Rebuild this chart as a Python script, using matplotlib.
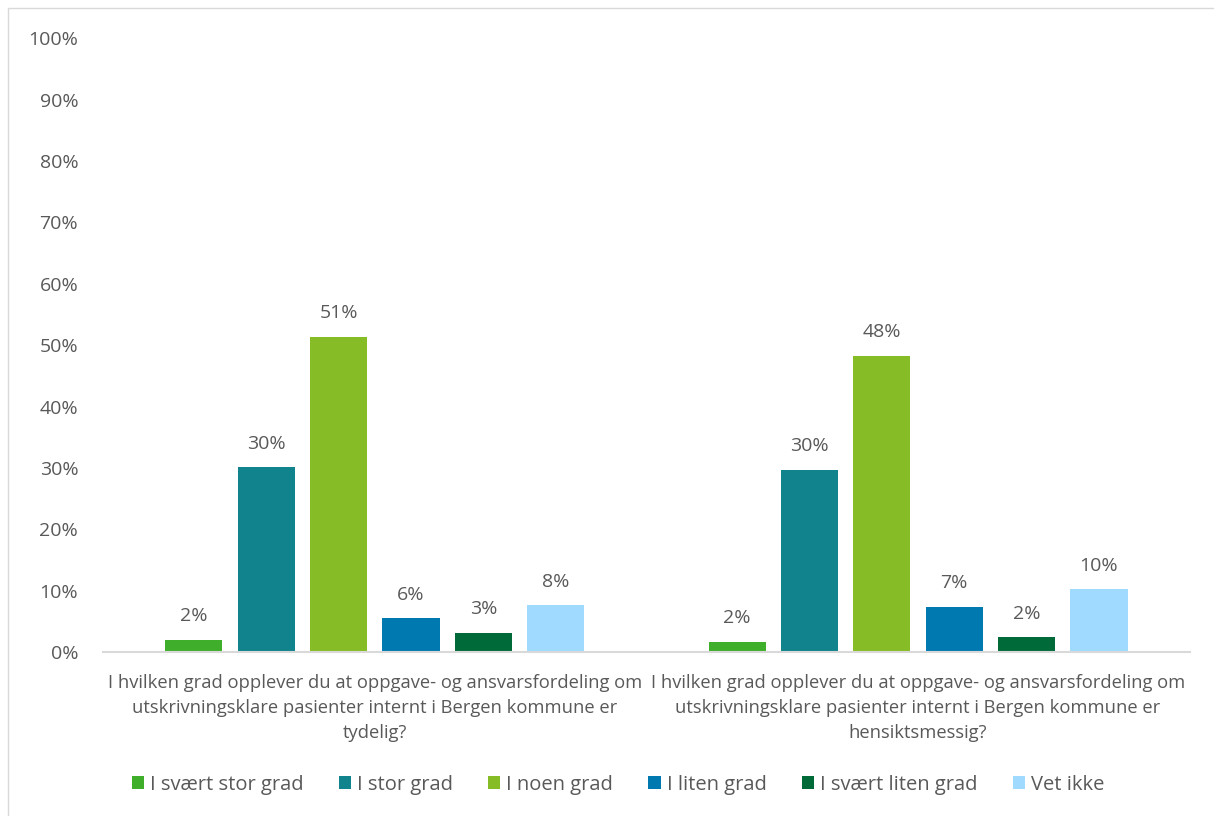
import numpy as np
import matplotlib.pyplot as plt
from matplotlib.patches import Rectangle

# Data
categories = [
    'I hvilken grad opplever du at oppgave- og ansvarsfordeling om\n'
    'utskrivningsklare pasienter internt i Bergen kommune er\ntydelig?',
    'I hvilken grad opplever du at oppgave- og ansvarsfordeling om\n'
    'utskrivningsklare pasienter internt i Bergen kommune er\nhensiktsmessig?',
]
series = ['I svært stor grad', 'I stor grad', 'I noen grad', 'I liten grad',
          'I svært liten grad', 'Vet ikke']
values = [
    [2.0, 1.7],
    [30.1, 29.7],
    [51.3, 48.2],
    [5.5, 7.4],
    [3.1, 2.4],
    [7.6, 10.2],
]
labels = [
    ['2%', '2%'],
    ['30%', '30%'],
    ['51%', '48%'],
    ['6%', '7%'],
    ['3%', '2%'],
    ['8%', '10%'],
]
colors = ['#3FAE2A', '#10838C', '#86BC25', '#0079B0', '#006B38', '#A0DBFF']

plt.rcParams['font.family'] = ['Open Sans', 'DejaVu Sans']
txt = '#595959'

fig = plt.figure(figsize=(12.14, 8.16), dpi=100)
ax = fig.add_axes([0.085, 0.201, 0.895, 0.752])

x = np.arange(len(categories))
step = 0.1332
width = 0.105
for i, (name, vals) in enumerate(zip(series, values)):
    pos = x + (i - 2.5) * step
    bars = ax.bar(pos, vals, width, color=colors[i], label=name)
    for b, lab in zip(bars, labels[i]):
        ax.text(b.get_x() + b.get_width() / 2, b.get_height() + 2.4, lab,
                ha='center', va='bottom', fontsize=14, color=txt)

ax.set_xlim(-0.5, 1.5)
ax.set_ylim(0, 100)
ax.set_yticks(range(0, 101, 10))
ax.set_yticklabels([f'{v}%' for v in range(0, 101, 10)])
ax.set_xticks(x)
ax.set_xticklabels(categories, fontsize=13.2, color=txt, linespacing=1.48)
ax.tick_params(axis='y', length=0, labelsize=14, labelcolor=txt, pad=18)
ax.tick_params(axis='x', length=0, pad=16)
for s in ['top', 'right', 'left']:
    ax.spines[s].set_visible(False)
ax.spines['bottom'].set_color('#D9D9D9')
ax.spines['bottom'].set_linewidth(1.5)

leg = fig.legend(loc='center', bbox_to_anchor=(0.509, 0.038), ncol=6,
                 frameon=False, fontsize=14.5, handlelength=0.6,
                 handleheight=0.6, handletextpad=0.3, columnspacing=1.75)
for t in leg.get_texts():
    t.set_color(txt)

# light outer border
fig.patches.append(Rectangle((8 / 1214, -0.01), 1.0, 1 - 8 / 816 + 0.01,
                             transform=fig.transFigure, fill=False,
                             edgecolor='#D9D9D9', linewidth=1))

fig.savefig('out.png')
